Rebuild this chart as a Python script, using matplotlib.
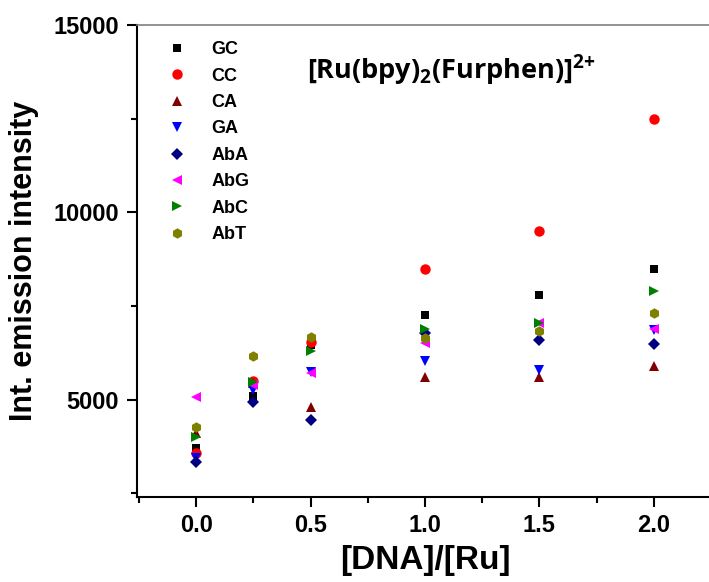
import matplotlib
matplotlib.use("Agg")
import matplotlib.pyplot as plt
from matplotlib.ticker import MultipleLocator

plt.rcParams['font.family'] = ['Liberation Sans', 'DejaVu Sans']
plt.rcParams['mathtext.fontset'] = 'custom'
plt.rcParams['mathtext.bf'] = 'Open Sans:bold'
plt.rcParams['mathtext.rm'] = 'Open Sans:bold'

# [DNA]/[Ru] ratios
ratio = [0.0, 0.25, 0.5, 1.0, 1.5, 2.0]

# integrated emission intensity for each DNA
gc  = [3700, 5100, 6450, 7250, 7800, 8500]
cc  = [3580, 5500, 6550, 8500, 9500, 12500]
ca  = [4100, 5450, 4790, 5600, 5600, 5900]
ga  = [3450, 5250, 5750, 6030, 5800, 6850]
aba = [3340, 4950, 4460, 6780, 6580, 6490]
abg = [5070, 5400, 5720, 6510, 7040, 6890]
abc = [4010, 5470, 6300, 6880, 7050, 7900]
abt = [4280, 6160, 6660, 6640, 6820, 7300]

labels = ['GC', 'CC', 'CA', 'GA', 'AbA', 'AbG', 'AbC', 'AbT']
series = [gc, cc, ca, ga, aba, abg, abc, abt]
markers = ['s', 'o', '^', 'v', 'D', '<', '>', 'h']
colors = ['#000000', '#ff0000', '#800000', '#0000ff', '#000080', '#ff00ff', '#008000', '#808000']
sizes = [6.0, 7.5, 7.0, 7.0, 6.0, 7.0, 7.0, 7.5]

fig = plt.figure(figsize=(7.09, 5.82), dpi=100)
ax = fig.add_axes([0.193, 0.146, 0.813, 0.811])

for lab, vals, m, c, s in zip(labels, series, markers, colors, sizes):
    ax.plot(ratio, vals, linestyle='none', marker=m, color=c, markersize=s,
            markeredgewidth=0, label=lab)

ax.set_xlim(-0.26, 2.26)
ax.set_ylim(2400, 15000)
ax.xaxis.set_major_locator(MultipleLocator(0.5))
ax.xaxis.set_minor_locator(MultipleLocator(0.25))
ax.yaxis.set_minor_locator(MultipleLocator(2500))
ax.set_yticks([5000, 10000, 15000])
ax.xaxis.set_major_formatter(plt.FormatStrFormatter('%.1f'))

ax.tick_params(which='major', direction='out', length=7, width=1.5, labelsize=17, pad=6)
ax.tick_params(which='minor', direction='out', length=4, width=1.5)
ax.tick_params(axis='x', which='major', pad=5)
for t in ax.get_xticklabels() + ax.get_yticklabels():
    t.set_fontweight('bold')

ax.spines['left'].set_linewidth(1.5)
ax.spines['bottom'].set_linewidth(1.5)
ax.spines['top'].set_color('#808080')
ax.spines['top'].set_linewidth(1.2)
ax.spines['right'].set_visible(False)

ax.set_xlabel('[DNA]/[Ru]', fontsize=24, fontweight='bold', labelpad=6)
ax.set_ylabel('Int. emission intensity', fontsize=22, fontweight='bold', labelpad=10)

ax.text(0.295, 0.903, r'[Ru(bpy)$_\mathbf{2}$(Furphen)]$^{\mathbf{2}{\mathbf{+}}}$',
        transform=ax.transAxes, fontsize=19.5, family='Open Sans', fontweight='bold',
        va='center', ha='left')

ax.legend(loc='upper left', bbox_to_anchor=(0.0105, 1.0), frameon=False,
          prop={'weight': 'bold', 'size': 13}, handletextpad=0.9, labelspacing=0.52,
          borderaxespad=0.5, markerscale=1.0)

fig.savefig('out.png', dpi=100)
